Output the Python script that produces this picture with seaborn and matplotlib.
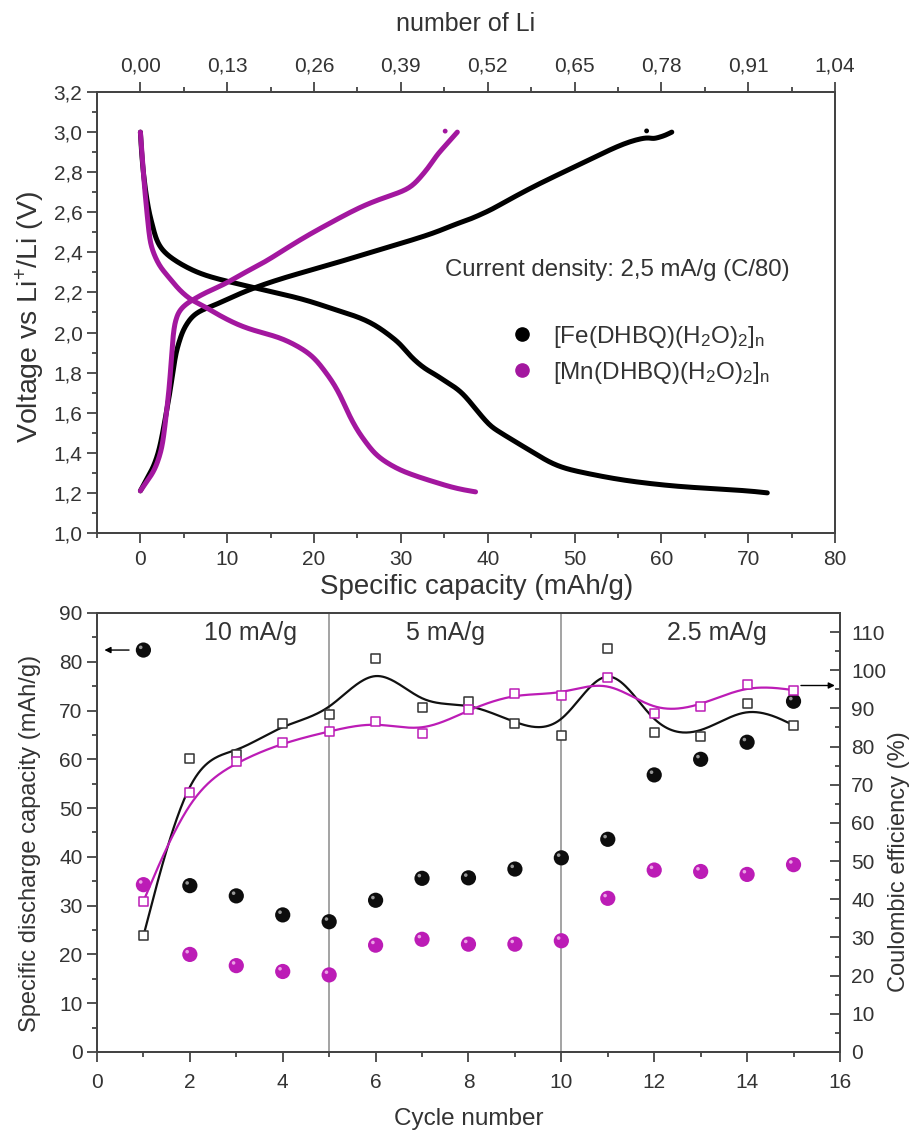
import numpy as np
import pandas as pd
import matplotlib
matplotlib.use("Agg")
import matplotlib.pyplot as plt
from matplotlib.ticker import MultipleLocator, FixedLocator, FuncFormatter
from matplotlib.lines import Line2D
from matplotlib.path import Path
import seaborn as sns

# ---------------- data ----------------
# galvanostatic profiles (capacity in mAh/g, voltage in V)
fe_dis_cap = [0, 0.2, 0.6, 1.0, 1.3, 1.7, 2.2, 3.0, 4.3, 6.0, 7.8, 10.5, 13.5, 16.5, 19.3, 22.0, 25.0,
              27.0, 28.9, 30.0, 31.1, 32.7, 34.0, 35.0, 36.9, 38.4, 40.1, 41.1, 43.0, 45.3, 47.2,
              49.0, 51.1, 54.0, 56.8, 60.0, 62.6, 65.5, 68.3, 70.5, 72.2]
fe_dis_v = [3.0, 2.85, 2.70, 2.60, 2.55, 2.48, 2.43, 2.39, 2.35, 2.31, 2.28, 2.25, 2.22, 2.19, 2.16, 2.12,
            2.08, 2.04, 1.98, 1.94, 1.88, 1.82, 1.79, 1.76, 1.71, 1.63, 1.54, 1.51, 1.46, 1.40, 1.35,
            1.32, 1.30, 1.275, 1.256, 1.24, 1.23, 1.222, 1.215, 1.208, 1.2]

fe_ch_cap = [0, 0.5, 1.0, 1.5, 2.0, 2.4, 2.9, 3.4, 3.8, 4.1, 4.5, 4.9, 5.5, 6.2, 7.2, 8.2, 9.7, 11.5,
             13.5, 17.0, 21.2, 25.0, 28.9, 30.0, 33.8, 36.5, 37.7, 40.3, 41.5, 45.3, 49.2, 53.0, 56.0,
             58.4, 59.0, 59.9, 60.5, 61.2]
fe_ch_v = [1.21, 1.25, 1.29, 1.33, 1.39, 1.46, 1.58, 1.70, 1.82, 1.90, 1.96, 2.01, 2.055, 2.09, 2.115,
           2.13, 2.16, 2.195, 2.23, 2.28, 2.33, 2.38, 2.43, 2.445, 2.495, 2.545, 2.56, 2.61, 2.64, 2.73,
           2.81, 2.89, 2.95, 2.976, 2.965, 2.976, 2.985, 3.0]

mn_dis_cap = [0, 0.2, 0.5, 0.8, 1.07, 1.46, 2.2, 3.2, 4.5, 5.9, 7.0, 8.5, 10.8, 13.0, 15.8, 17.8, 19.3,
              20.3, 21.2, 22.2, 23.1, 24.0, 25.0, 26.0, 26.9, 28.0, 29.6, 31.0, 32.7, 34.2, 35.7, 37.2, 38.6]
mn_dis_v = [3.0, 2.88, 2.71, 2.58, 2.46, 2.40, 2.33, 2.28, 2.21, 2.16, 2.14, 2.10, 2.046, 2.01, 1.98, 1.94,
            1.90, 1.86, 1.81, 1.75, 1.68, 1.59, 1.51, 1.45, 1.40, 1.36, 1.32, 1.295, 1.27, 1.25, 1.23,
            1.215, 1.205]

mn_ch_cap = [0, 0.8, 1.6, 2.2, 2.6, 3.0, 3.4, 3.75, 4.1, 4.5, 5.2, 5.9, 7.5, 9.7, 12.0, 14.3, 16.8, 19.3,
             22.0, 25.0, 27.5, 30.0, 31.3, 32.3, 33.3, 34.2, 35.4, 36.5]
mn_ch_v = [1.21, 1.26, 1.31, 1.38, 1.45, 1.60, 1.75, 2.0, 2.07, 2.11, 2.14, 2.16, 2.20, 2.24, 2.30, 2.35,
           2.42, 2.486, 2.55, 2.62, 2.665, 2.70, 2.73, 2.777, 2.83, 2.89, 2.945, 3.0]

# isolated end points of the charge curves
fe_dot = (58.3, 3.006)
mn_dot = (35.1, 3.005)

li_ticks = [0.00, 0.13, 0.26, 0.39, 0.52, 0.65, 0.78, 0.91, 1.04]
li_per_mAh = 0.013

# cycling data
cycles = list(range(1, 16))
fe_cap = [82.4, 34.1, 32.0, 28.1, 26.7, 31.1, 35.6, 35.7, 37.5, 39.8, 43.6, 56.8, 60.0, 63.5, 71.9]
mn_cap = [34.3, 20.0, 17.7, 16.5, 15.8, 21.9, 23.1, 22.1, 22.1, 22.8, 31.5, 37.3, 37.0, 36.4, 38.4]
fe_ce = [30.4, 77.0, 78.0, 86.0, 88.5, 103.0, 90.3, 91.8, 86.0, 83.0, 105.8, 83.8, 82.7, 91.4, 85.6]
mn_ce = [39.5, 68.0, 76.0, 81.0, 84.0, 86.7, 83.5, 89.7, 94.0, 93.5, 98.0, 88.7, 90.6, 96.3, 94.8]

rate_labels = ["10 mA/g", "5 mA/g", "2.5 mA/g"]
rate_label_x = [3.3, 7.5, 13.35]
rate_breaks = [5, 10]

FE = "black"
MN_TOP = "#A3179F"
MN_BOT = "#BC1CB6"


def bspline(xs, ys, n=40):
    """Uniform cubic B-spline using the points as control points, clamped at both ends."""
    P = np.column_stack([xs, ys]).astype(float)
    P = np.vstack([P[:1], P[:1], P, P[-1:], P[-1:]])
    t = np.linspace(0, 1, n)[:, None]
    b0 = (1 - t) ** 3 / 6
    b1 = (3 * t ** 3 - 6 * t ** 2 + 4) / 6
    b2 = (-3 * t ** 3 + 3 * t ** 2 + 3 * t + 1) / 6
    b3 = t ** 3 / 6
    segs = [b0 * P[i] + b1 * P[i + 1] + b2 * P[i + 2] + b3 * P[i + 3] for i in range(len(P) - 3)]
    out = np.vstack(segs)
    return out[:, 0], out[:, 1]


# small off-centre disc used as the specular highlight on the ball markers
_th = np.linspace(0, 2 * np.pi, 30)
HILITE = Path(np.column_stack([-0.3 + 0.2 * np.cos(_th), 0.3 + 0.2 * np.sin(_th)]), closed=True)

# ---------------- style ----------------
sns.set_style("ticks")
plt.rcParams["font.family"] = ["Liberation Sans", "DejaVu Sans"]
plt.rcParams["mathtext.fontset"] = "custom"
plt.rcParams["mathtext.rm"] = "Liberation Sans"
plt.rcParams["mathtext.default"] = "regular"
TXT = "#333333"
TICK_FS = 15

fig = plt.figure(figsize=(9.14, 11.32), dpi=100)
ax1 = fig.add_axes([0.1061, 0.5292, 0.8075, 0.3895])
ax3 = fig.add_axes([0.1061, 0.0707, 0.8129, 0.3878])

comma = FuncFormatter(lambda v, p: f"{v:.1f}".replace(".", ","))

# ---------------- top panel ----------------
curves = [
    (fe_dis_cap, fe_dis_v, FE), (fe_ch_cap, fe_ch_v, FE),
    (mn_dis_cap, mn_dis_v, MN_TOP), (mn_ch_cap, mn_ch_v, MN_TOP),
]
for cx, cy, col in curves:
    sx, sy = bspline(cx, cy, n=12)
    sns.lineplot(x=sx, y=sy, sort=False, estimator=None, color=col,
                 lw=3.6, ax=ax1, solid_capstyle="round", solid_joinstyle="round")
dots = pd.DataFrame({"cap": [fe_dot[0], mn_dot[0]], "v": [fe_dot[1], mn_dot[1]],
                     "s": ["Fe", "Mn"]})
sns.scatterplot(data=dots, x="cap", y="v", hue="s", palette={"Fe": FE, "Mn": MN_TOP},
                s=12, linewidth=0, legend=False, ax=ax1)

ax1.set_xlim(-5, 80)
ax1.set_ylim(1.0, 3.2)
ax1.xaxis.set_major_locator(MultipleLocator(10))
ax1.xaxis.set_minor_locator(MultipleLocator(5))
ax1.yaxis.set_major_locator(MultipleLocator(0.2))
ax1.yaxis.set_minor_locator(MultipleLocator(0.1))
ax1.yaxis.set_major_formatter(comma)
ax1.set_xlabel("Specific capacity (mAh/g)", fontsize=20, color=TXT, labelpad=2)
ax1.xaxis.set_label_coords(0.515, -0.094)
ax1.set_ylabel("Voltage vs Li$^{+}$/Li (V)", fontsize=20.5, color=TXT)
ax1.yaxis.label.set_verticalalignment("center")
ax1.yaxis.set_label_coords(-0.0908, 0.49)

ax2 = ax1.twiny()
ax2.set_xlim(-5 * li_per_mAh, 80 * li_per_mAh)
ax2.xaxis.set_major_locator(FixedLocator(li_ticks))
ax2.xaxis.set_minor_locator(FixedLocator([v + 0.065 for v in li_ticks[:-1]]))
ax2.xaxis.set_major_formatter(FuncFormatter(lambda v, p: f"{v:.2f}".replace(".", ",")))
ax2.set_xlabel("number of Li", fontsize=18, color=TXT, labelpad=18)

ax1.text(0.4715, 0.596, "Current density: 2,5 mA/g (C/80)", transform=ax1.transAxes,
         fontsize=17.3, color=TXT, va="center", ha="left")

handles = [
    Line2D([], [], ls="none", marker="o", ms=9.5, color=FE),
    Line2D([], [], ls="none", marker="o", ms=9.5, color=MN_TOP),
]
labels = ["[Fe(DHBQ)(H$_2$O)$_2$]$_n$", "[Mn(DHBQ)(H$_2$O)$_2$]$_n$"]
leg = ax1.legend(handles, labels, loc="center left", bbox_to_anchor=(0.536, 0.404),
                 frameon=False, fontsize=17.5, handletextpad=0.6, labelspacing=0.4,
                 borderpad=0, handlelength=1.4)
for t in leg.get_texts():
    t.set_color(TXT)

for a in (ax1, ax2):
    for sp in a.spines.values():
        sp.set_visible(True)
        sp.set_color("#444444")
        sp.set_linewidth(1.4)
    a.tick_params(which="both", direction="out", color="#444444", width=1.3,
                  labelsize=TICK_FS, labelcolor=TXT)
    a.tick_params(which="major", length=7)
    a.tick_params(which="minor", length=3.5)
ax1.tick_params(right=False, top=False)
ax1.tick_params(axis="x", pad=5)
ax2.tick_params(axis="x", pad=5)

# ---------------- bottom panel ----------------
for xb in rate_breaks:
    ax3.axvline(xb, color="#8a8a8a", lw=1.1, zorder=1)
for lx, lt in zip(rate_label_x, rate_labels):
    ax3.text(lx, 85.9, lt, fontsize=18, color=TXT, ha="center", va="center")

cap_df = pd.DataFrame({"cycle": cycles * 2, "cap": fe_cap + mn_cap,
                       "mat": ["Fe"] * 15 + ["Mn"] * 15})
sns.scatterplot(data=cap_df, x="cycle", y="cap", hue="mat", palette={"Fe": "#0d0d0d", "Mn": MN_BOT},
                s=120, linewidth=0, legend=False, ax=ax3, zorder=4)
# sphere highlight
sns.scatterplot(data=cap_df, x="cycle", y="cap", hue="mat", palette={"Fe": "#a8a8a8", "Mn": "#f0b0ea"},
                marker=HILITE, s=42, linewidth=0, alpha=0.9, legend=False, ax=ax3, zorder=5)

ax3.set_xlim(0, 16)
ax3.set_ylim(0, 90)
ax3.xaxis.set_major_locator(MultipleLocator(2))
ax3.xaxis.set_minor_locator(MultipleLocator(1))
ax3.yaxis.set_major_locator(MultipleLocator(10))
ax3.yaxis.set_minor_locator(MultipleLocator(5))
ax3.set_xlabel("Cycle number", fontsize=17.5, color=TXT, labelpad=12)
ax3.set_ylabel("Specific discharge capacity (mAh/g)", fontsize=17, color=TXT)
ax3.yaxis.label.set_verticalalignment("center")
ax3.yaxis.set_label_coords(-0.0902, 0.476)

ax4 = ax3.twinx()
for ce, col in ((fe_ce, "#111111"), (mn_ce, MN_BOT)):
    sx, sy = bspline(cycles, ce)
    sns.lineplot(x=sx, y=sy, sort=False, estimator=None, color=col, lw=1.6, ax=ax4, zorder=2)
ce_df = pd.DataFrame({"cycle": cycles * 2, "ce": fe_ce + mn_ce, "mat": ["Fe"] * 15 + ["Mn"] * 15})
sns.scatterplot(data=ce_df, x="cycle", y="ce", style="mat", markers={"Fe": "s", "Mn": "s"},
                hue="mat", palette={"Fe": "#333333", "Mn": MN_BOT},
                s=42, linewidth=1.1, legend=False, ax=ax4, zorder=3)
for coll in ax4.collections:
    fc = coll.get_facecolors()
    if len(fc):
        coll.set_edgecolors(fc)
        coll.set_facecolors("white")
ax4.set_ylim(0, 115)
ax4.yaxis.set_major_locator(FixedLocator(list(range(0, 111, 10))))
ax4.yaxis.set_minor_locator(FixedLocator(list(range(5, 116, 10))))
ax4.set_ylabel("Coulombic efficiency (%)", fontsize=17, color=TXT)
ax4.yaxis.label.set_verticalalignment("center")
ax4.yaxis.label.set_horizontalalignment("center")
ax4.yaxis.set_label_coords(1.0795, 0.433)

# axis pointer arrows
ax3.annotate("", xy=(0.1, fe_cap[0]), xytext=(0.75, fe_cap[0]),
             arrowprops=dict(arrowstyle="-|>", color="black", lw=1.0, mutation_scale=9))
ax4.annotate("", xy=(15.95, 96), xytext=(15.1, 96),
             arrowprops=dict(arrowstyle="-|>", color="black", lw=1.0, mutation_scale=9))

for a in (ax3, ax4):
    for sp in a.spines.values():
        sp.set_visible(True)
        sp.set_color("#444444")
        sp.set_linewidth(1.4)
    a.tick_params(which="both", color="#444444", width=1.3, labelsize=TICK_FS, labelcolor=TXT)
    a.tick_params(which="major", length=7)
    a.tick_params(which="minor", length=3.5)
ax3.tick_params(which="both", direction="out", top=False, right=False)
ax3.tick_params(axis="x", pad=8)
ax4.tick_params(which="both", direction="in", pad=8)

fig.savefig("out.png", dpi=100)
